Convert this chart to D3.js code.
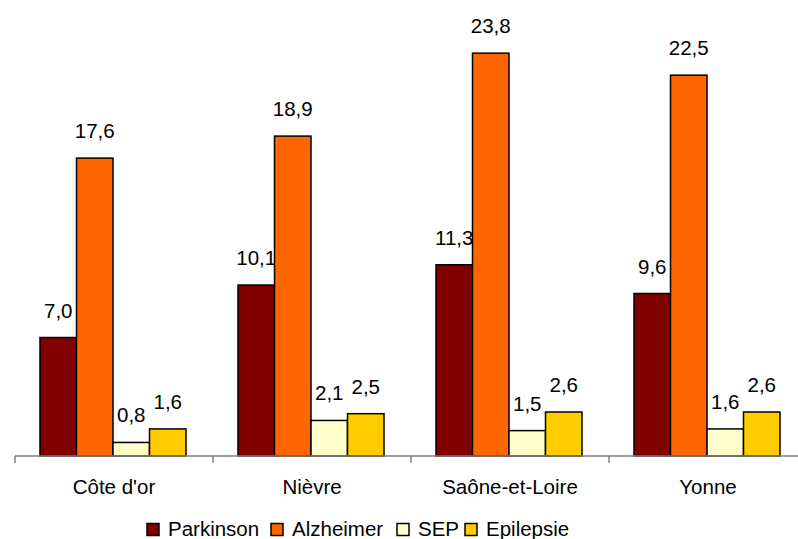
<!DOCTYPE html>
<html>
<head>
<meta charset="utf-8">
<script src="https://cdn.jsdelivr.net/npm/d3@7"></script>
<style>
  html, body { margin: 0; padding: 0; background: #fff; }
  svg { display: block; font-family: "Liberation Sans", Arial, sans-serif; }
</style>
</head>
<body>
<svg id="chart" width="798" height="539"></svg>
<script>
// Départements and series
const categories = ["Côte d'or", "Nièvre", "Saône-et-Loire", "Yonne"];
const seriesNames = ["Parkinson", "Alzheimer", "SEP", "Epilepsie"];
const parkinson = [7.0, 10.1, 11.3, 9.6];
const alzheimer = [17.6, 18.9, 23.8, 22.5];
const sep = [0.8, 2.1, 1.5, 1.6];
const epilepsie = [1.6, 2.5, 2.6, 2.6];
const seriesColors = ["#800000", "#FF6600", "#FFFFCC", "#FFCC00"];

const seriesValues = [parkinson, alzheimer, sep, epilepsie];
const fmt = v => v.toFixed(1).replace(".", ",");
const fontSize = 20.5;

const svg = d3.select("#chart");

const x0 = d3.scaleBand().domain(categories).range([15, 807]).paddingInner(0).paddingOuter(0);
const x1 = d3.scaleBand().domain(seriesNames).range([25, x0.bandwidth() - 27]).padding(0);
const y = d3.scaleLinear().domain([0, 27]).range([456, -1]);

// Bars and value labels, one series at a time
seriesNames.forEach((name, si) => {
  const g = svg.append("g");
  const vals = seriesValues[si];
  g.selectAll("rect")
    .data(categories)
    .join("rect")
    .attr("x", c => x0(c) + x1(name))
    .attr("y", (c, i) => y(vals[i]))
    .attr("width", x1.bandwidth())
    .attr("height", (c, i) => y(0) - y(vals[i]))
    .attr("fill", seriesColors[si])
    .attr("stroke", "#000")
    .attr("stroke-width", 1.5);
  g.selectAll("text")
    .data(categories)
    .join("text")
    .attr("x", c => x0(c) + x1(name) + x1.bandwidth() / 2)
    .attr("y", (c, i) => y(vals[i]) - 20)
    .attr("text-anchor", "middle")
    .attr("font-size", fontSize)
    .attr("fill", "#000")
    .text((c, i) => fmt(vals[i]));
});

// Category axis
const axis = svg.append("g").attr("transform", `translate(0,${y(0)})`);
axis.append("line")
  .attr("x1", 15).attr("x2", 807)
  .attr("stroke", "#808080").attr("stroke-width", 1.5);
axis.selectAll("line.tick")
  .data(categories.concat(["end"]))
  .join("line")
  .attr("class", "tick")
  .attr("x1", (d, i) => 15 + i * x0.bandwidth())
  .attr("x2", (d, i) => 15 + i * x0.bandwidth())
  .attr("y1", 0).attr("y2", 7)
  .attr("stroke", "#808080").attr("stroke-width", 1.5);
axis.selectAll("text")
  .data(categories)
  .join("text")
  .attr("x", c => x0(c) + x0.bandwidth() / 2)
  .attr("y", 38)
  .attr("text-anchor", "middle")
  .attr("font-size", fontSize)
  .attr("fill", "#000")
  .text(c => c);

// Legend
const legendX = [146, 270, 396, 464];
const legend = svg.append("g");
seriesNames.forEach((name, i) => {
  legend.append("rect")
    .attr("x", legendX[i] + 1).attr("y", 523.5)
    .attr("width", 12).attr("height", 12)
    .attr("fill", seriesColors[i])
    .attr("stroke", "#000").attr("stroke-width", 1.5);
  legend.append("text")
    .attr("x", legendX[i] + 22).attr("y", 536)
    .attr("font-size", fontSize)
    .attr("fill", "#000")
    .text(name);
});
</script>
</body>
</html>
